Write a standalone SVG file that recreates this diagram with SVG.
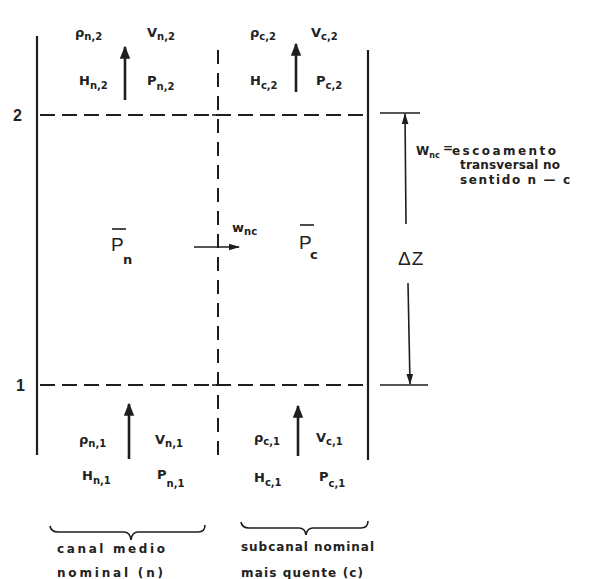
<svg xmlns="http://www.w3.org/2000/svg" width="598" height="579" viewBox="0 0 598 579">
  <style>
    .wall { stroke: #1e1e1e; stroke-width: 2.2; fill: none; }
    .thin { stroke: #1e1e1e; stroke-width: 1.6; fill: none; }
    .dashh { stroke: #1e1e1e; stroke-width: 2; stroke-dasharray: 15 7; fill: none; }
    .dashv { stroke: #1e1e1e; stroke-width: 2; stroke-dasharray: 14 9; fill: none; }
    .flow { stroke: #1e1e1e; stroke-width: 2.6; fill: none; }
    .lbl { font-family: "DejaVu Sans", "Liberation Sans", sans-serif; font-weight: bold; font-size: 13px; fill: #222; }
    .sub { font-size: 10px; }
    .big { font-family: "Liberation Sans", "DejaVu Sans", sans-serif; font-size: 19px; fill: #222; }
    .lvl { font-family: "Liberation Sans", "DejaVu Sans", sans-serif; font-weight: bold; font-size: 16px; fill: #222; }
    .note { font-family: "DejaVu Sans", "Liberation Sans", sans-serif; font-weight: bold; font-size: 12px; fill: #222; }
  </style>
  <defs>
    <marker id="head" viewBox="0 0 10 10" refX="9" refY="5" markerWidth="5" markerHeight="5" orient="auto" markerUnits="strokeWidth">
      <path d="M0,1 L10,5 L0,9 z" fill="#1e1e1e"/>
    </marker>
    <marker id="headS" viewBox="0 0 10 10" refX="9" refY="5" markerWidth="7" markerHeight="7" orient="auto" markerUnits="strokeWidth">
      <path d="M0,2 L10,5 L0,8 z" fill="#1e1e1e"/>
    </marker>
  </defs>
  <rect width="598" height="579" fill="#ffffff"/>

  <!-- channel walls and control-volume boundaries -->
  <g id="walls">
    <line class="wall" x1="37" y1="36" x2="37" y2="455"/>
    <line class="wall" x1="368" y1="50" x2="368" y2="460"/>
    <line class="dashv" x1="218" y1="50" x2="218" y2="460"/>
    <line class="dashh" x1="40" y1="115" x2="368" y2="115"/>
    <line class="dashh" x1="40" y1="385" x2="368" y2="385"/>
    <line class="thin" x1="212" y1="115" x2="224" y2="115"/>
    <line class="thin" x1="212" y1="385" x2="224" y2="385"/>
  </g>

  <g id="levels">
    <text class="lvl" x="13" y="121">2</text>
    <text class="lvl" x="16" y="391">1</text>
  </g>

  <!-- height of the control volume -->
  <g id="dz">
    <line class="thin" x1="380" y1="113" x2="420" y2="113"/>
    <line class="thin" x1="380" y1="385" x2="428" y2="385"/>
    <text class="big" x="398" y="265" font-size="18" letter-spacing="1">ΔZ</text>
  </g>

  <!-- upper section, channel n -->
  <g id="top-n">
    <text class="lbl" x="75" y="37">ρ<tspan class="sub" dy="3">n,2</tspan></text>
    <text class="lbl" x="147" y="37">V<tspan class="sub" dy="3">n,2</tspan></text>
    <text class="lbl" x="79" y="85">H<tspan class="sub" dy="4">n,2</tspan></text>
    <text class="lbl" x="147" y="85">P<tspan class="sub" dy="5">n,2</tspan></text>
  </g>

  <!-- upper section, channel c -->
  <g id="top-c">
    <text class="lbl" x="250" y="37">ρ<tspan class="sub" dy="3">c,2</tspan></text>
    <text class="lbl" x="311" y="37">V<tspan class="sub" dy="3">c,2</tspan></text>
    <text class="lbl" x="250" y="85">H<tspan class="sub" dy="4">c,2</tspan></text>
    <text class="lbl" x="316" y="85">P<tspan class="sub" dy="4">c,2</tspan></text>
  </g>

  <!-- averaged pressures -->
  <g id="mean-n">
    <line class="thin" x1="112" y1="229" x2="126" y2="229"/>
    <text class="big" x="111" y="251">P</text>
    <text class="lbl" x="123" y="264" font-size="11">n</text>
  </g>
  <g id="mean-c">
    <line class="thin" x1="300" y1="225" x2="314" y2="225"/>
    <text class="big" x="299" y="249">P</text>
    <text class="lbl" x="310" y="259" font-size="11">c</text>
  </g>

  <!-- lower section, channel n -->
  <g id="bottom-n">
    <text class="lbl" x="79" y="444">ρ<tspan class="sub" dy="3">n,1</tspan></text>
    <text class="lbl" x="155" y="444">V<tspan class="sub" dy="3">n,1</tspan></text>
    <text class="lbl" x="82" y="480">H<tspan class="sub" dy="4">n,1</tspan></text>
    <text class="lbl" x="157" y="479">P<tspan class="sub" dy="8">n,1</tspan></text>
  </g>

  <!-- lower section, channel c -->
  <g id="bottom-c">
    <text class="lbl" x="254" y="442">ρ<tspan class="sub" dy="3">c,1</tspan></text>
    <text class="lbl" x="316" y="442">V<tspan class="sub" dy="3">c,1</tspan></text>
    <text class="lbl" x="254" y="482">H<tspan class="sub" dy="4">c,1</tspan></text>
    <text class="lbl" x="319" y="481">P<tspan class="sub" dy="6">c,1</tspan></text>
  </g>

  <!-- cross-flow label and definition -->
  <g id="crossflow">
    <text class="lbl" x="232" y="232" font-size="11">w<tspan class="sub" dy="3" font-size="8">nc</tspan></text>
  </g>
  <g id="legend">
    <text class="note" x="416" y="155" font-size="11">W<tspan font-size="8" dy="3">nc</tspan></text>
    <text class="note" x="443" y="152" font-size="9">=</text>
    <text class="note" x="452" y="155" textLength="104" lengthAdjust="spacing">escoamento</text>
    <text class="note" x="460" y="169" textLength="100" lengthAdjust="spacing">transversal no</text>
    <text class="note" x="460" y="184" textLength="110" lengthAdjust="spacing">sentido  n — c</text>
  </g>

  <!-- channel groupings -->
  <g id="brace-n">
    <path class="thin" d="M50,526 Q51,532 58,532 L124,532 Q130,532 131,540 Q132,532 138,532 L198,532 Q205,532 205,525"/>
    <text class="note" x="57" y="553" textLength="108" lengthAdjust="spacing">canal medio</text>
    <text class="note" x="57" y="577" textLength="106" lengthAdjust="spacing">nominal (n)</text>
  </g>
  <g id="brace-c">
    <path class="thin" d="M241,522 Q242,528 249,528 L299,528 Q305,528 306,535 Q307,528 313,528 L361,528 Q368,528 368,521"/>
    <text class="note" x="241" y="551" textLength="133" lengthAdjust="spacing">subcanal nominal</text>
    <text class="note" x="241" y="577" textLength="122" lengthAdjust="spacing">mais quente (c)</text>
  </g>

  <!-- arrows -->
  <g id="connectors">
    <line class="flow" x1="125" y1="100" x2="125" y2="47" marker-end="url(#head)"/>
    <line class="flow" x1="296" y1="92" x2="296" y2="44" marker-end="url(#head)"/>
    <line class="flow" x1="129" y1="459" x2="129" y2="404" marker-end="url(#head)"/>
    <line class="flow" x1="298" y1="456" x2="298" y2="406" marker-end="url(#head)"/>
    <line class="thin" x1="194" y1="247" x2="239" y2="247" marker-end="url(#headS)"/>
    <line class="thin" x1="406" y1="224" x2="405" y2="114" marker-end="url(#headS)"/>
    <line class="thin" x1="408" y1="283" x2="410" y2="384" marker-end="url(#headS)"/>
  </g>
</svg>
